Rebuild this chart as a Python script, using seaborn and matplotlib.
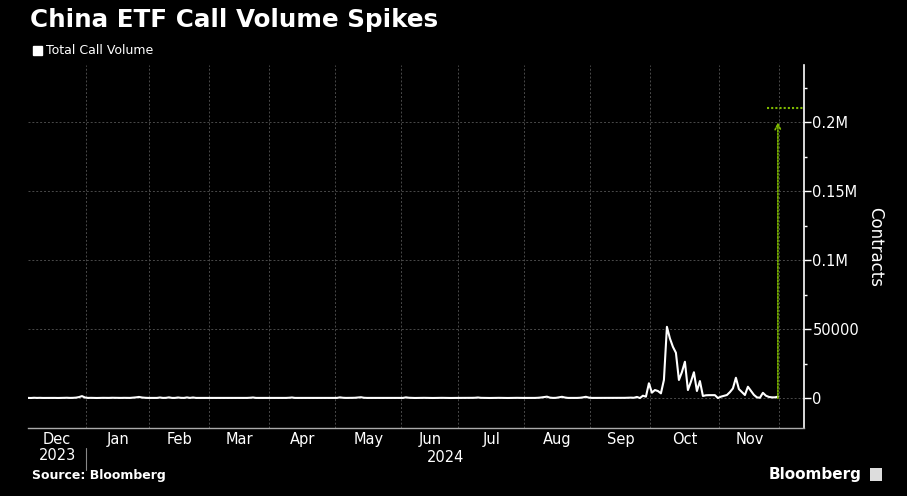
import numpy as np
import pandas as pd
import matplotlib
matplotlib.use("Agg")
import matplotlib.pyplot as plt
import seaborn as sns
from matplotlib.patches import Patch, Rectangle
from matplotlib.lines import Line2D
import matplotlib.transforms as mtransforms

# ---------------- data ----------------
holidays = ["2023-12-25", "2024-01-01", "2024-01-15", "2024-02-19", "2024-03-29",
            "2024-05-27", "2024-06-19", "2024-07-04", "2024-09-02", "2024-11-28"]

dec_2023 = [300, 250, 400, 300, 350, 280, 300, 400, 350, 300, 250, 300, 350, 400, 300, 350, 500, 900, 1600, 600]
jan_2024 = [300, 350, 300, 250, 300, 350, 300, 300, 400, 350, 300, 300, 350, 300, 300, 500, 700, 1000, 600, 400, 300]
feb_2024 = [300, 350, 300, 600, 300, 350, 700, 300, 300, 600, 350, 300, 650, 300, 600, 300, 300, 350, 300, 300]
mar_2024 = [300, 250, 300, 350, 300, 300, 250, 300, 350, 300, 300, 250, 300, 400, 600, 300, 300, 250, 300, 300]
apr_2024 = [300, 250, 300, 300, 350, 300, 400, 600, 300, 300, 250, 300, 300, 350, 300, 300, 250, 300, 300, 350, 300, 300]
may_2024 = [300, 700, 400, 300, 300, 350, 400, 600, 800, 400, 300, 300, 250, 300, 350, 300, 300, 300, 250, 300, 300, 300]
jun_2024 = [300, 700, 400, 300, 250, 300, 300, 350, 300, 300, 250, 300, 300, 350, 300, 300, 250, 300, 300]
jul_2024 = [300, 300, 250, 300, 350, 400, 600, 350, 300, 300, 250, 300, 300, 350, 300, 300, 250, 300, 300, 350, 300, 300]
aug_2024 = [300, 300, 350, 300, 400, 600, 900, 1200, 500, 300, 350, 700, 1100, 600, 300, 300, 250, 300, 400, 700, 1100, 500]
sep_2024 = [300, 300, 250, 300, 300, 350, 300, 300, 250, 300, 300, 350, 400, 500, 400, 1000, 200, 1900, 1200, 10900]
oct_2024 = [4100, 6000, 5300, 3600, 13300, 51800, 43400, 37300, 33000, 13300, 19000, 26500, 6000, 12000,
            18900, 5300, 12500, 1700, 2200, 2300, 2300, 2300, 200]
nov_2024 = [1200, 1800, 2400, 4500, 7200, 14900, 6700, 4500, 2400, 8400, 5500, 2500, 700, 400, 4000,
            1900, 1000, 700, 700, 1200]

month_labels = ["Dec", "Jan", "Feb", "Mar", "Apr", "May", "Jun", "Jul", "Aug", "Sep", "Oct", "Nov"]
year_labels = ["2023", "2024"]
ytick_values = [0, 50000, 100000, 150000, 200000]
ytick_labels = ["0", "50000", "0.1M", "0.15M", "0.2M"]
marker_value = 210000  # green reference level

values = (dec_2023 + jan_2024 + feb_2024 + mar_2024 + apr_2024 + may_2024 + jun_2024 +
          jul_2024 + aug_2024 + sep_2024 + oct_2024 + nov_2024)
dates = pd.bdate_range("2023-12-01", "2024-11-29", freq="C", holidays=holidays)
n = min(len(dates), len(values))
df = pd.DataFrame({"date": dates[:n], "session": np.arange(n), "volume": values[:n]})

# ---------------- style ----------------
sns.set_style("dark", {"axes.facecolor": "black", "figure.facecolor": "black",
                       "axes.edgecolor": "white", "grid.color": "#444444",
                       "text.color": "white", "xtick.color": "white", "ytick.color": "white"})
plt.rcParams["font.family"] = ["DejaVu Sans"]

W, H = 907, 496
fig = plt.figure(figsize=(W / 100, H / 100), dpi=100, facecolor="black")
ax_l, ax_r, ax_t, ax_b = 28, 804, 65, 428
ax = fig.add_axes([ax_l / W, 1 - ax_b / H, (ax_r - ax_l) / W, (ax_b - ax_t) / H])
ax.set_facecolor("black")

sns.lineplot(data=df, x="session", y="volume", ax=ax, color="white", lw=1.5)

xmax = n - 1 + 8.7
ax.set_xlim(0, xmax)
ax.set_ylim(-21500, 241500)

# month boundaries
d = df["date"]
starts = [i for i in range(1, n) if d.iloc[i].month != d.iloc[i - 1].month]
bounds = [s - 0.5 for s in starts] + [n - 0.5]
edges = [0] + bounds
mids = [(edges[i] + edges[i + 1]) / 2 for i in range(len(edges) - 1)]

ax.set_xticks(bounds)
ax.set_xticklabels([])
ax.set_xticks(mids, minor=True)
ax.set_xticklabels(month_labels[:len(mids)], minor=True, fontsize=10.5, color="white")
ax.tick_params(axis="x", which="major", length=4, color="#666666", direction="out")
ax.tick_params(axis="x", which="minor", length=0, pad=3)
for b in bounds:
    ax.axvline(b, color="#4a4a4a", lw=0.7, ls=(0, (2, 2)), zorder=0)

# y axis on right
ax.yaxis.tick_right()
ax.set_yticks(ytick_values)
ax.set_yticklabels(ytick_labels, fontsize=10.5, color="white")
ax.set_yticks([25000 + 50000 * k for k in range(5)], minor=True)
ax.tick_params(axis="y", which="major", length=5, width=1, color="white", pad=1)
ax.tick_params(axis="y", which="minor", length=2.5, width=1, color="white")
for v in ytick_values:
    ax.axhline(v, color="#4a4a4a", lw=0.7, ls=(0, (2, 2)), zorder=0)
ax.grid(False)
ax.set_xlabel("")
ax.set_ylabel("")

for s in ["top", "left"]:
    ax.spines[s].set_visible(False)
ax.spines["right"].set_color("white")
ax.spines["right"].set_linewidth(1.2)
ax.spines["bottom"].set_color("#aaaaaa")
ax.spines["bottom"].set_linewidth(1.0)

# year labels and separator
trans = mtransforms.blended_transform_factory(ax.transData, ax.transAxes)
ax.text(mids[0], -0.075, year_labels[0], transform=trans, ha="center", va="center",
        fontsize=10.5, color="white")
ax.text((bounds[0] + xmax) / 2, -0.081, year_labels[1], transform=trans, ha="center",
        va="center", fontsize=10.5, color="white")
ax.add_line(Line2D([bounds[0], bounds[0]], [-0.055, -0.116], transform=trans,
                   color="#888888", lw=0.8, clip_on=False))

# green reference marker
green = "#7fba00"
last = n - 1
ax.annotate("", xy=(last, ytick_values[-1]), xytext=(last, 0),
            arrowprops=dict(arrowstyle="->", color=green, lw=1.2, ls=(0, (1, 1)),
                            shrinkA=0, shrinkB=0, mutation_scale=10))
ax.plot([last - 3.7, xmax], [marker_value, marker_value], color=green, lw=1.5,
        ls=(0, (1, 1)), clip_on=False)

# titles / legend / source
fig.text(30 / W, 1 - 20 / H, "China ETF Call Volume Spikes", fontsize=17.7,
         fontweight="bold", color="white", ha="left", va="center")
fig.legend(handles=[Patch(facecolor="white", edgecolor="white", label="Total Call Volume")],
           loc="center left", bbox_to_anchor=(33 / W, 1 - 51 / H), frameon=False,
           handlelength=0.7, handleheight=0.7, handletextpad=0.35, fontsize=9,
           labelcolor="white", borderaxespad=0, borderpad=0)
fig.text(875 / W, 1 - 247 / H, "Contracts", rotation=270, ha="center", va="center",
         fontsize=12, color="white")
fig.text(32 / W, 1 - 476 / H, "Source: Bloomberg", fontsize=9, fontweight="bold",
         color="white", ha="left", va="center")
fig.text(862 / W, 1 - 474 / H, "Bloomberg", fontsize=11, fontweight="bold",
         color="white", ha="right", va="center")
fig.patches.append(Rectangle((870 / W, 1 - 481 / H), 12 / W, 13 / H, transform=fig.transFigure,
                             facecolor="#dddddd", edgecolor="none"))

fig.savefig("out.png", dpi=100, facecolor="black")
